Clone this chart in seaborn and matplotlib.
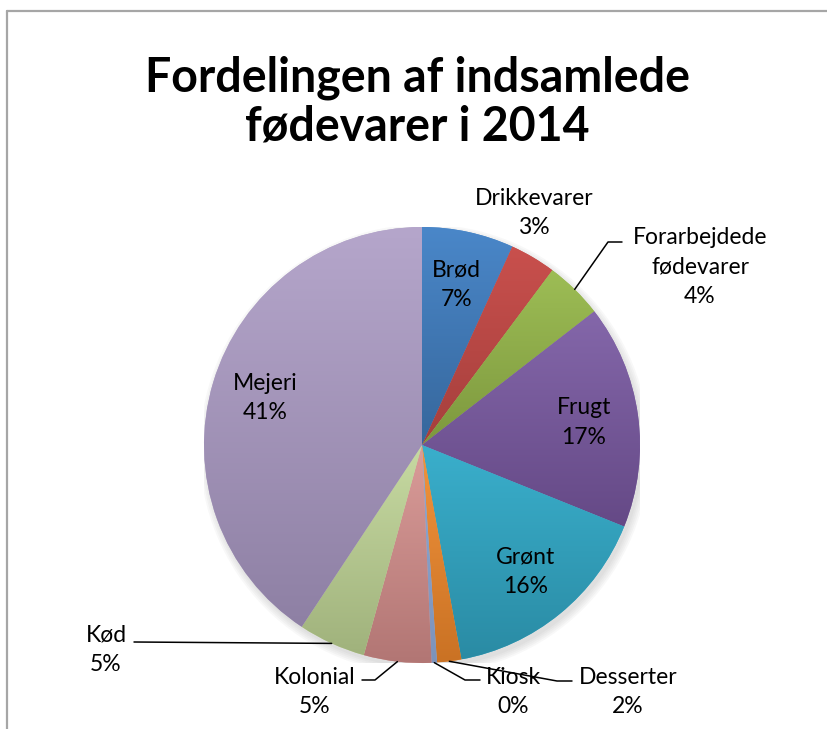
import numpy as np
import matplotlib
matplotlib.use("Agg")
import matplotlib.pyplot as plt
import seaborn as sns
from matplotlib.lines import Line2D
from matplotlib.patches import Circle

# data (shares in percent)
categories = ["Brød", "Drikkevarer", "Forarbejdede\nfødevarer", "Frugt", "Grønt",
              "Desserter", "Kiosk", "Kolonial", "Kød", "Mejeri"]
shares = [6.8, 3.4, 4.3, 16.6, 16.0, 1.8, 0.4, 5.0, 5.0, 40.7]
top_colors = ["#4A87C9", "#C9504D", "#9DBD55", "#8467AA", "#3AAFCC",
              "#F2943D", "#8FA9D4", "#DA9C99", "#C7DAA2", "#B5A6CB"]
bottom_colors = ["#36679C", "#A53F3C", "#7D983E", "#654986", "#2A8BA4",
                 "#CA7224", "#7D93BA", "#B27674", "#A0B27C", "#8E80A4"]
inside = ["Brød", "Frugt", "Grønt", "Mejeri"]

title = "Fordelingen af indsamlede\nfødevarer i 2014"

sns.set_theme(style="white")
plt.rcParams["font.family"] = ["Lato", "DejaVu Sans"]

W, H = 827, 729
cx, cy, R = 422, 445, 218  # pie centre and radius in pixels


def px(x, y):
    # pixel position in the picture -> data units of the pie axes
    return (x - cx) / R, (cy - y) / R


fig = plt.figure(figsize=(W / 100, H / 100), dpi=100)
ax = fig.add_axes([(cx - R) / W, (H - cy - R) / H, 2 * R / W, 2 * R / H])

# soft shadow under the pie
for k in range(5):
    ax.add_patch(Circle((0.012, -0.02), 1.0 + 0.008 * k, color="#7f7f7f",
                        alpha=0.05, lw=0, zorder=0))

wedges, _ = ax.pie(shares, colors=top_colors, startangle=90, counterclock=False,
                   radius=1, wedgeprops=dict(linewidth=0))

# vertical gradient inside each wedge, light at the top
grad = np.linspace(0, 1, 256).reshape(-1, 1)
for w, c0, c1 in zip(wedges, top_colors, bottom_colors):
    ext = w.get_path().get_extents()
    cmap = sns.blend_palette([c0, c1], as_cmap=True)
    im = ax.imshow(grad, cmap=cmap, extent=[ext.x0, ext.x1, ext.y0, ext.y1],
                   origin="upper", aspect="auto", interpolation="bilinear", zorder=2)
    im.set_clip_path(w)

label_kw = dict(fontsize=16.5, color="black", ha="center", va="center",
                linespacing=1.5, zorder=5)

# text block centres and leader lines (pixels) for the labels outside the pie
outside = {
    "Drikkevarer": ((534, 213), None),
    "Forarbejdede\nfødevarer": ((700, 267), [(608, 242), (622, 242)]),
    "Desserter": ((628, 692), [(557, 681), (572, 681)]),
    "Kiosk": ((513, 692), [(465, 680), (480, 680)]),
    "Kolonial": ((315, 692), [(375, 680), (362, 680)]),
    "Kød": ((106, 650), [(134, 642)]),
}

for w, name, s in zip(wedges, categories, shares):
    text = f"{name}\n{round(s):.0f}%"
    mid = np.deg2rad((w.theta1 + w.theta2) / 2)
    if name in inside:
        ax.text(0.75 * np.cos(mid), 0.75 * np.sin(mid), text, **label_kw)
        continue
    (tx, ty), leader = outside[name]
    ax.text(*px(tx, ty), text, **label_kw)
    if leader:
        pts = [(np.cos(mid), np.sin(mid))] + [px(*p) for p in leader]
        xs, ys = zip(*pts)
        ax.plot(xs, ys, color="black", lw=1.1, zorder=4, clip_on=False)

ax.set_xlim(-1, 1)
ax.set_ylim(-1, 1)
ax.set_aspect("equal")
ax.axis("off")

fig.text(417 / W, 1 - 102 / H, title, fontsize=33.5, fontweight="bold",
         color="black", ha="center", va="center", linespacing=1.12)

# chart frame
fig.add_artist(Line2D([7 / W, 1], [1 - 11 / H, 1 - 11 / H], color="#A6A6A6", lw=1.6))
fig.add_artist(Line2D([7 / W, 7 / W], [0, 1 - 11 / H], color="#A6A6A6", lw=1.6))

fig.savefig("out.png", dpi=100)
